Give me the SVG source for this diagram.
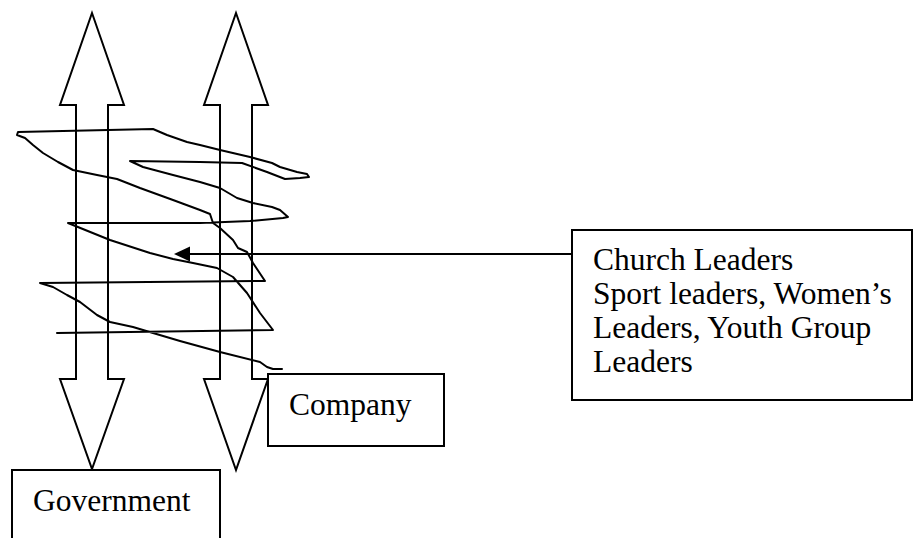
<svg xmlns="http://www.w3.org/2000/svg" width="914" height="538" viewBox="0 0 914 538">
<style>
.box{fill:#fff;stroke:#000;stroke-width:2}
.shape{fill:#fff;stroke:#000;stroke-width:2;stroke-linejoin:miter}
.line{fill:none;stroke:#000;stroke-width:2;stroke-linejoin:round;stroke-linecap:round}
.lbl{font-family:"Liberation Serif","Times New Roman",serif;font-size:31.5px;fill:#000}
</style>
<defs>
<marker id="ah" markerUnits="userSpaceOnUse" markerWidth="16" markerHeight="16" viewBox="0 0 16 16" refX="1" refY="8" orient="auto">
<path d="M16,8 L0,0.5 L0,15.5 Z" fill="#000"/>
</marker>
</defs>
<rect width="914" height="538" fill="#fff"/>
<g id="arrow-left">
<path class="shape" d="M92,13 L124,105 L108,105 L108,379 L124,379 L92,469 L60,379 L76,379 L76,105 L60,105 Z"/>
</g>
<g id="arrow-right">
<path class="shape" d="M236,13 L268,105 L252,105 L252,379 L268,379 L236,470 L204,379 L220,379 L220,105 L204,105 Z"/>
</g>
<g id="scribble">
<polyline class="line" points="57,333 273,330 260,313 247,293 233,277 217,268 193,263 173,259 150,253 110,240 68,223 200,223 250,221 283,218 288,217 280,210 272,207 253,203 237,198 220,188 200,182 173,175 143,167 130,161 200,162 242,163 267,172 285,179 300,178 309,177 307,174 297,172 280,167 272,163 250,157 220,150 200,145 187,142 167,135 153,129 18,132 17,135 25,138 33,145 43,153 58,162 73,170 97,175 117,179 140,188 173,200 200,210 210,214 213,223 220,228 233,240 238,248 247,252 253,263 265,281 40,283 53,287 67,295 80,302 97,315 110,322 133,327 153,333 180,341 220,352 260,362 267,367 273,369 282,369"/>
</g>
<g id="government">
<rect class="box" x="12" y="470" width="208" height="90"/>
<text class="lbl" x="33" y="511">Government</text>
</g>
<g id="company">
<rect class="box" x="268" y="374" width="176" height="72"/>
<text class="lbl" x="289" y="415">Company</text>
</g>
<g id="leaders">
<rect class="box" x="572" y="230" width="340" height="170"/>
<text class="lbl" x="593" y="270">Church Leaders</text>
<text class="lbl" x="593" y="304">Sport leaders, Women’s</text>
<text class="lbl" x="593" y="338">Leaders, Youth Group</text>
<text class="lbl" x="593" y="372">Leaders</text>
</g>
<g id="connectors">
<line class="line" x1="572" y1="254" x2="189" y2="254" marker-end="url(#ah)"/>
</g>
</svg>
